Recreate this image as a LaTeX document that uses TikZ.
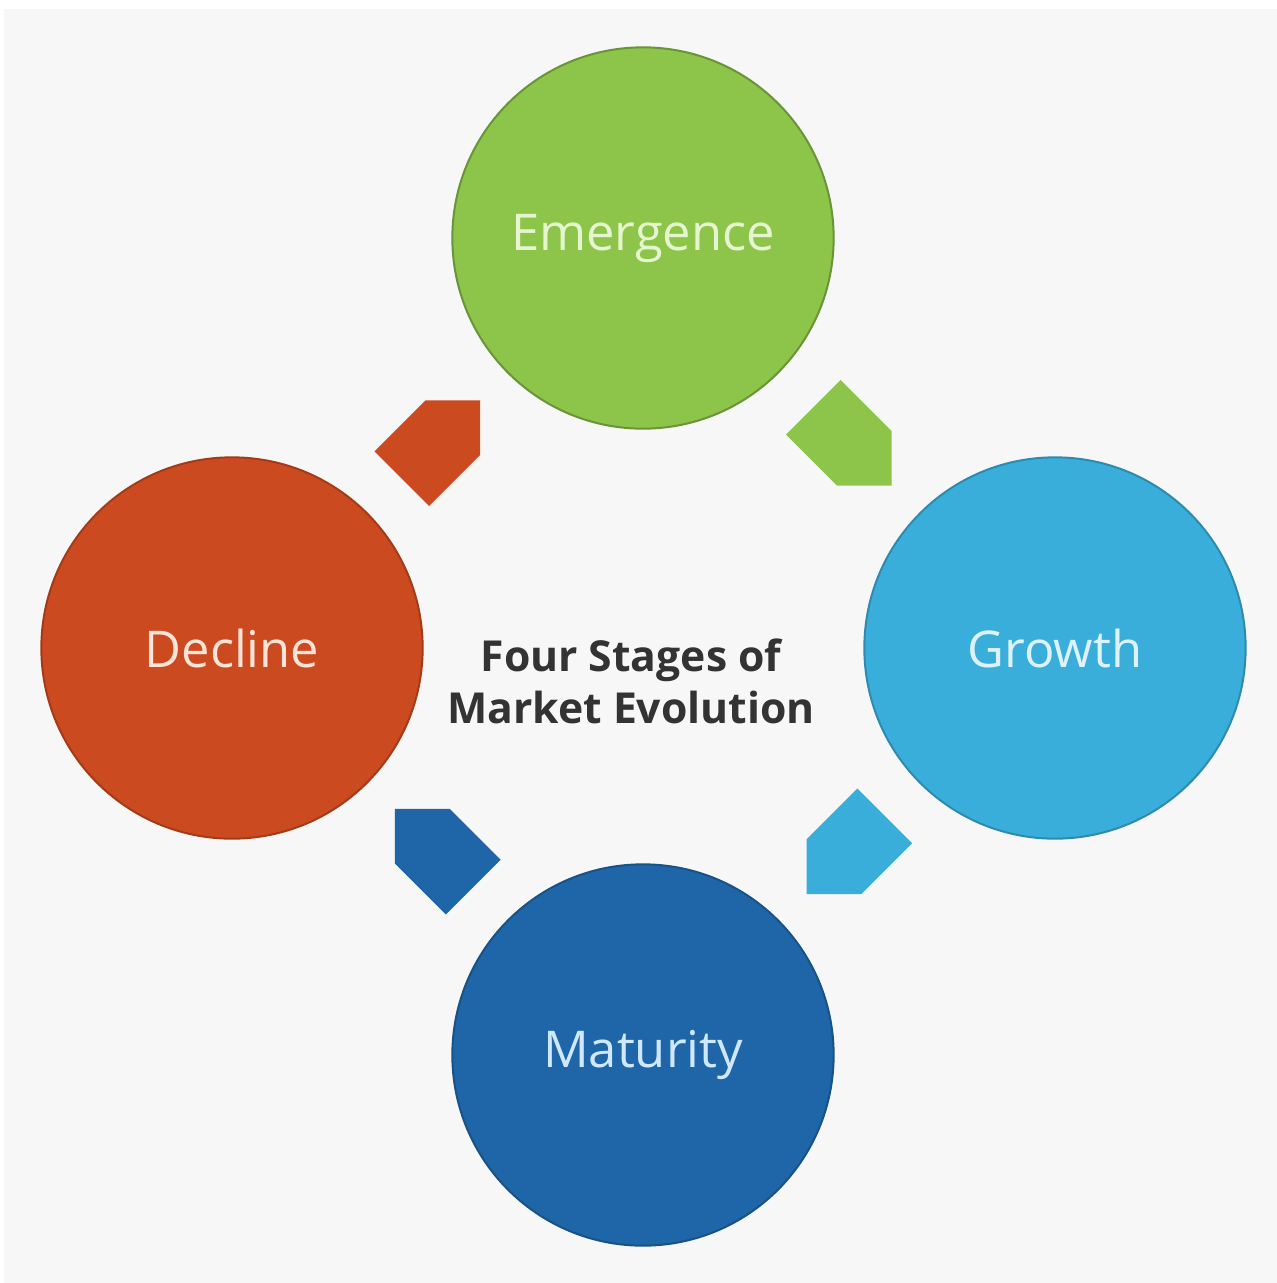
\documentclass[tikz,border=0pt]{standalone}
\usepackage{fontspec}
\setmainfont{Open Sans}
\usetikzlibrary{shapes.arrows,calc}
\definecolor{bggray}{HTML}{F7F7F7}
\definecolor{cgreen}{HTML}{8CC54A}
\definecolor{cblue}{HTML}{3AAEDB}
\definecolor{cdark}{HTML}{1F66A8}
\definecolor{cred}{HTML}{CC4A1F}
\definecolor{tgreen}{HTML}{E6F5CF}
\definecolor{tblue}{HTML}{DDF2FB}
\definecolor{tdark}{HTML}{CFE8FF}
\definecolor{tred}{HTML}{FCE4D8}
\definecolor{ttitle}{HTML}{333333}
\tikzset{
  stage/.style={circle, minimum size=286pt, inner sep=0pt, line width=1.5pt,
    font=\fontsize{38}{44}\selectfont},
  flowarrow/.style={single arrow, single arrow head extend=0pt,
    single arrow tip angle=90, minimum width=58pt, minimum height=83pt,
    inner sep=0pt, draw=none},
  title/.style={font=\bfseries\fontsize{32}{39}\selectfont, text=ttitle, align=center}
}
\begin{document}
\begin{tikzpicture}[x=0.75pt,y=-0.75pt]
\useasboundingbox (0,0) rectangle (1277,1283);
\fill[white] (0,0) rectangle (1277,1283);
\fill[bggray] (4,9) rectangle (1277,1283);
\node[stage, fill=cgreen, draw=cgreen!75!black, text=tgreen] (eme) at (643,238) {Emergence};
\node[stage, fill=cblue, draw=cblue!80!black, text=tblue] (gro) at (1055,648) {Growth};
\node[stage, fill=cdark, draw=cdark!80!black, text=tdark] (mat) at (643,1055) {Maturity};
\node[stage, fill=cred, draw=cred!80!black, text=tred] (dec) at (232,648) {Decline};
\node[flowarrow, fill=cred, rotate=45] (a1) at ($(dec)!0.475!(eme)$) {};
\node[flowarrow, fill=cgreen, rotate=-45] (a2) at ($(eme)!0.475!(gro)$) {};
\node[flowarrow, fill=cblue, rotate=-135] (a3) at ($(gro)!0.475!(mat)$) {};
\node[flowarrow, fill=cdark, rotate=135] (a4) at ($(mat)!0.475!(dec)$) {};
\node[title] (ttl) at (631,681) {Four Stages of\\Market Evolution};
\end{tikzpicture}
\end{document}
